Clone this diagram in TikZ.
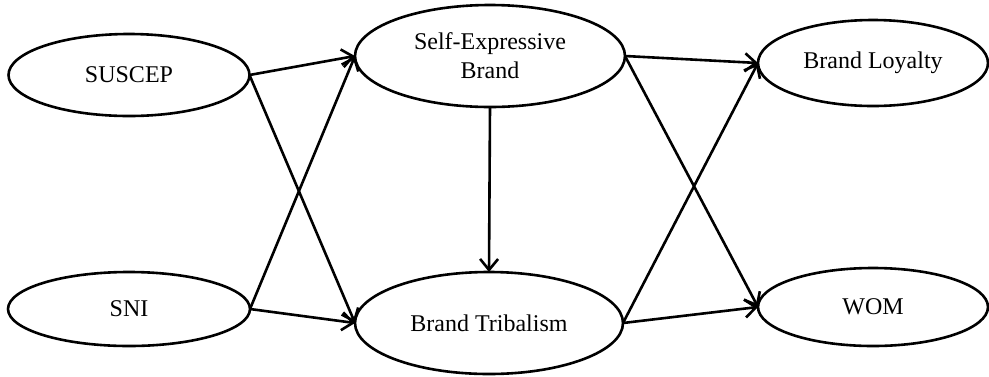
\documentclass[tikz,border=0pt]{standalone}
\usepackage{fontspec}
\setmainfont{Liberation Serif}
\usetikzlibrary{shapes.geometric,arrows.meta}
\begin{document}
\begin{tikzpicture}[x=1pt,y=-1pt,
  oval/.style={ellipse,draw,line width=2.6pt,inner sep=0pt,outer sep=0pt,
    font=\fontsize{24}{29}\selectfont,align=center},
  link/.style={line width=2.6pt,-{Straight Barb[length=11pt,width=18pt,line width=2.6pt]}}]
\useasboundingbox (0,0) rectangle (989,376);
\node[oval,minimum width=241pt,minimum height=82pt] (sus) at (129,75) {SUSCEP};
\node[oval,minimum width=242pt,minimum height=74pt] (sni) at (129,309) {SNI};
\node[oval,minimum width=270pt,minimum height=102pt] (seb) at (490,56) {Self-Expressive\\Brand};
\node[oval,minimum width=268pt,minimum height=102pt] (bt) at (489,323) {Brand Tribalism};
\node[oval,minimum width=230pt,minimum height=86pt] (bl) at (873,63) {Brand Loyalty};
\node[oval,minimum width=230pt,minimum height=78pt] (wom) at (873,307) {WOM};
\draw[link] (sus.east) -- (seb.west);
\draw[link] (sus.east) -- (bt.west);
\draw[link] (sni.east) -- (seb.west);
\draw[link] (sni.east) -- (bt.west);
\draw[link] (seb.south) -- (bt.north);
\draw[link] (seb.east) -- (bl.west);
\draw[link] (seb.east) -- (wom.west);
\draw[link] (bt.east) -- (bl.west);
\draw[link] (bt.east) -- (wom.west);
\end{tikzpicture}
\end{document}
